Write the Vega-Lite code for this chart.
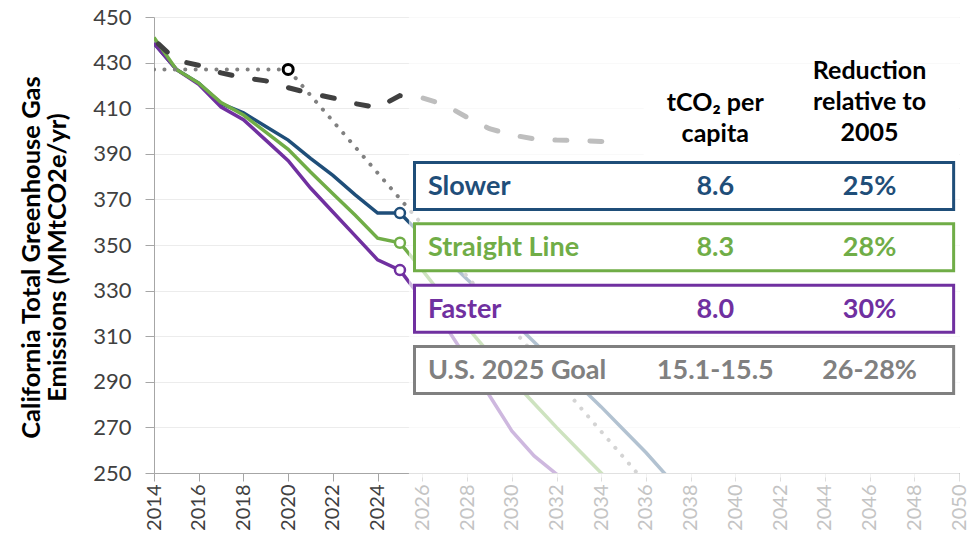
{
  "$schema": "https://vega.github.io/schema/vega-lite/v6.json",
  "width": 805,
  "height": 456,
  "autosize": "none",
  "padding": {"left": 154, "top": 17, "right": 10, "bottom": 69},
  "background": "white",
  "config": {"view": {"stroke": null}, "font": "Lato"},
  "datasets": {
    "scen": [
      {"series": "Slower", "year": 2014, "value": 438.5}, {"series": "Slower", "year": 2015, "value": 427}, {"series": "Slower", "year": 2016, "value": 421}, {"series": "Slower", "year": 2017, "value": 412}, {"series": "Slower", "year": 2018, "value": 408}, {"series": "Slower", "year": 2019, "value": 402}, {"series": "Slower", "year": 2020, "value": 396}, {"series": "Slower", "year": 2021, "value": 388}, {"series": "Slower", "year": 2022, "value": 380.5}, {"series": "Slower", "year": 2023, "value": 372}, {"series": "Slower", "year": 2024, "value": 364}, {"series": "Slower", "year": 2025, "value": 364}, {"series": "Slower", "year": 2026, "value": 354}, {"series": "Slower", "year": 2027, "value": 344.5}, {"series": "Slower", "year": 2028, "value": 335}, {"series": "Slower", "year": 2029, "value": 326}, {"series": "Slower", "year": 2030, "value": 317}, {"series": "Slower", "year": 2031, "value": 307.5}, {"series": "Slower", "year": 2032, "value": 298}, {"series": "Slower", "year": 2033, "value": 288.5}, {"series": "Slower", "year": 2034, "value": 279}, {"series": "Slower", "year": 2035, "value": 269}, {"series": "Slower", "year": 2036, "value": 259}, {"series": "Slower", "year": 2037, "value": 248},
      {"series": "Faster", "year": 2014, "value": 438.5}, {"series": "Faster", "year": 2015, "value": 427}, {"series": "Faster", "year": 2016, "value": 420.5}, {"series": "Faster", "year": 2017, "value": 410.5}, {"series": "Faster", "year": 2018, "value": 405}, {"series": "Faster", "year": 2019, "value": 396}, {"series": "Faster", "year": 2020, "value": 387}, {"series": "Faster", "year": 2021, "value": 375}, {"series": "Faster", "year": 2022, "value": 364.5}, {"series": "Faster", "year": 2023, "value": 354}, {"series": "Faster", "year": 2024, "value": 343.5}, {"series": "Faster", "year": 2025, "value": 339}, {"series": "Faster", "year": 2026, "value": 326}, {"series": "Faster", "year": 2027, "value": 315}, {"series": "Faster", "year": 2028, "value": 300}, {"series": "Faster", "year": 2029, "value": 284}, {"series": "Faster", "year": 2030, "value": 268.5}, {"series": "Faster", "year": 2031, "value": 257.5}, {"series": "Faster", "year": 2032, "value": 249.5}, {"series": "Faster", "year": 2033, "value": 245},
      {"series": "Straight Line", "year": 2014, "value": 441}, {"series": "Straight Line", "year": 2015, "value": 427}, {"series": "Straight Line", "year": 2016, "value": 421}, {"series": "Straight Line", "year": 2017, "value": 412.5}, {"series": "Straight Line", "year": 2018, "value": 407}, {"series": "Straight Line", "year": 2019, "value": 399.5}, {"series": "Straight Line", "year": 2020, "value": 392}, {"series": "Straight Line", "year": 2021, "value": 382}, {"series": "Straight Line", "year": 2022, "value": 372.5}, {"series": "Straight Line", "year": 2023, "value": 363}, {"series": "Straight Line", "year": 2024, "value": 353}, {"series": "Straight Line", "year": 2025, "value": 351}, {"series": "Straight Line", "year": 2026, "value": 339}, {"series": "Straight Line", "year": 2027, "value": 326.5}, {"series": "Straight Line", "year": 2028, "value": 314}, {"series": "Straight Line", "year": 2029, "value": 302.5}, {"series": "Straight Line", "year": 2030, "value": 291}, {"series": "Straight Line", "year": 2031, "value": 280.5}, {"series": "Straight Line", "year": 2032, "value": 270}, {"series": "Straight Line", "year": 2033, "value": 260}, {"series": "Straight Line", "year": 2034, "value": 250}, {"series": "Straight Line", "year": 2035, "value": 240}
    ],
    "goal": [
      {"year": 2014, "value": 427}, {"year": 2020, "value": 427}, {"year": 2036, "value": 245.5}
    ],
    "dash": [
      {"year": 2014, "value": 440}, {"year": 2015, "value": 431}, {"year": 2016, "value": 428.8}, {"year": 2017, "value": 425.5}, {"year": 2018, "value": 423.3}, {"year": 2019, "value": 422}, {"year": 2020, "value": 419}, {"year": 2021, "value": 416.5}, {"year": 2022, "value": 414.5}, {"year": 2023, "value": 412}, {"year": 2024, "value": 410.3}, {"year": 2025, "value": 415.5}, {"year": 2026, "value": 414.5}, {"year": 2027, "value": 411.5}, {"year": 2028, "value": 406}, {"year": 2029, "value": 401}, {"year": 2030, "value": 398.3}, {"year": 2031, "value": 396.5}, {"year": 2032, "value": 396}, {"year": 2033, "value": 395.8}, {"year": 2034, "value": 395.4}, {"year": 2035, "value": 395}
    ],
    "marker2020": [{"year": 2020, "value": 427}],
    "notes": [{"note": "projection"}],
    "table": [
      {"scenario": "Slower", "tco2": "8.6", "reduction": "25%"},
      {"scenario": "Straight Line", "tco2": "8.3", "reduction": "28%"},
      {"scenario": "Faster", "tco2": "8.0", "reduction": "30%"},
      {"scenario": "U.S. 2025 Goal", "tco2": "15.1-15.5", "reduction": "26-28%"}
    ]
  },
  "layer": [
    {
      "layer": [
        {
          "data": {"name": "scen"},
          "mark": {"type": "line", "strokeWidth": 3.5, "clip": true},
          "encoding": {
            "x": {
              "field": "year", "type": "quantitative",
              "scale": {"domain": [2014, 2050], "nice": false, "zero": false},
              "axis": {
                "values": [2014, 2016, 2018, 2020, 2022, 2024, 2026, 2028, 2030, 2032, 2034, 2036, 2038, 2040, 2042, 2044, 2046, 2048, 2050],
                "format": "d", "labelAngle": -90, "labelFontSize": 20, "labelFont": "Lato",
                "labelColor": {"condition": {"test": "datum.value <= 2025", "value": "#404040"}, "value": "#C4C4C4"},
                "tickColor": {"condition": {"test": "datum.value <= 2025", "value": "#A6A6A6"}, "value": "#DDDDDD"},
                "tickSize": 8, "labelPadding": 3, "domainColor": "#A6A6A6", "grid": false, "title": null
              }
            },
            "y": {
              "field": "value", "type": "quantitative",
              "scale": {"domain": [250, 450], "nice": false, "zero": false},
              "axis": {
                "values": [250, 270, 290, 310, 330, 350, 370, 390, 410, 430, 450],
                "labelFontSize": 22, "labelFont": "Lato", "labelColor": "#404040",
                "tickSize": 9, "tickColor": "#A6A6A6", "domainColor": "#A6A6A6",
                "gridColor": "#ECECEC", "labelPadding": 14,
                "title": ["California Total Greenhouse Gas", "Emissions (MMtCO2e/yr)"],
                "titleFont": "Lato", "titleFontSize": 25.5, "titleFontWeight": "bold", "titleColor": "#000000",
                "titlePadding": 22, "titleLineHeight": 26, "titleY": 240
              }
            },
            "color": {"field": "series", "type": "nominal", "scale": {"domain": ["Slower", "Straight Line", "Faster", "U.S. 2025 Goal"], "range": ["#1F4E79", "#70AD47", "#7030A0", "#808080"]}, "legend": null}
          }
        },
        {
          "data": {"name": "goal"},
          "mark": {"type": "line", "strokeWidth": 4, "strokeDash": [0.1, 10.3], "strokeCap": "round", "color": "#808080", "clip": true},
          "encoding": {"x": {"field": "year", "type": "quantitative"}, "y": {"field": "value", "type": "quantitative"}}
        },
        {
          "data": {"name": "dash"},
          "mark": {"type": "line", "strokeWidth": 5, "strokeDash": [12, 23], "strokeDashOffset": -6, "strokeCap": "round", "color": "#404040", "clip": true},
          "encoding": {"x": {"field": "year", "type": "quantitative"}, "y": {"field": "value", "type": "quantitative"}}
        },
        {
          "data": {"name": "scen"},
          "transform": [{"filter": "datum.year == 2025"}],
          "mark": {"type": "point", "filled": true, "fill": "white", "strokeWidth": 2.5, "size": 100, "opacity": 1},
          "encoding": {
            "x": {"field": "year", "type": "quantitative"}, "y": {"field": "value", "type": "quantitative"},
            "stroke": {"field": "series", "type": "nominal", "scale": {"domain": ["Slower", "Straight Line", "Faster", "U.S. 2025 Goal"], "range": ["#1F4E79", "#70AD47", "#7030A0", "#808080"]}, "legend": null}
          }
        },
        {
          "data": {"name": "marker2020"},
          "mark": {"type": "point", "filled": true, "fill": "white", "stroke": "#000000", "strokeWidth": 3, "size": 100, "opacity": 1},
          "encoding": {"x": {"field": "year", "type": "quantitative"}, "y": {"field": "value", "type": "quantitative"}}
        },
        {
          "data": {"name": "notes"},
          "mark": {"type": "rect", "fill": "white", "opacity": 0.66},
          "encoding": {"x": {"datum": 2025.4}, "x2": {"datum": 2050}, "y": {"datum": 248}, "y2": {"datum": 450}}
        },
        {
          "data": {"name": "notes"},
          "mark": {"type": "rect", "fill": "white"},
          "encoding": {"x": {"datum": 2035.9}, "x2": {"datum": 2050}, "y": {"datum": 388.5}, "y2": {"datum": 427.5}}
        },
        {
          "data": {"name": "notes"},
          "mark": {"type": "text", "text": ["tCO₂ per", "capita"], "font": "Lato", "fontWeight": "bold", "fontSize": 25, "lineHeight": 31, "baseline": "middle", "align": "center", "color": "#000000"},
          "encoding": {"x": {"datum": 2039.1}, "y": {"datum": 412.3}}
        },
        {
          "data": {"name": "notes"},
          "mark": {"type": "text", "text": ["Reduction", "relative to", "2005"], "font": "Lato", "fontWeight": "bold", "fontSize": 25, "lineHeight": 31, "baseline": "middle", "align": "center", "color": "#000000"},
          "encoding": {"x": {"datum": 2046.0}, "y": {"datum": 426.3}}
        }
      ]
    },
    {
      "data": {"name": "table"},
      "encoding": {
        "y": {"field": "scenario", "type": "nominal", "sort": ["Slower", "Straight Line", "Faster", "U.S. 2025 Goal"], "scale": {"range": [145.5, 376.5], "paddingInner": 0.233, "paddingOuter": 0}, "axis": null},
        "color": {"field": "scenario", "type": "nominal", "scale": {"domain": ["Slower", "Straight Line", "Faster", "U.S. 2025 Goal"], "range": ["#1F4E79", "#70AD47", "#7030A0", "#808080"]}, "legend": null}
      },
      "layer": [
        {
          "mark": {"type": "rect", "fill": "white", "strokeWidth": 3},
          "encoding": {
            "x": {"datum": 2025.65}, "x2": {"datum": 2049.76},
            "color": {"value": "white"},
            "stroke": {"field": "scenario", "type": "nominal", "scale": {"domain": ["Slower", "Straight Line", "Faster", "U.S. 2025 Goal"], "range": ["#1F4E79", "#70AD47", "#7030A0", "#808080"]}, "legend": null}
          }
        },
        {
          "mark": {"type": "text", "align": "left", "baseline": "middle", "font": "Lato", "fontWeight": "bold", "fontSize": 27, "dy": 1},
          "encoding": {"x": {"datum": 2026.25}, "text": {"field": "scenario"}}
        },
        {
          "mark": {"type": "text", "align": "center", "baseline": "middle", "font": "Lato", "fontWeight": "bold", "fontSize": 27, "dy": 1},
          "encoding": {"x": {"datum": 2039.1}, "text": {"field": "tco2"}}
        },
        {
          "mark": {"type": "text", "align": "center", "baseline": "middle", "font": "Lato", "fontWeight": "bold", "fontSize": 27, "dy": 1},
          "encoding": {"x": {"datum": 2046.0}, "text": {"field": "reduction"}}
        }
      ]
    }
  ],
  "resolve": {"scale": {"y": "independent"}}
}
